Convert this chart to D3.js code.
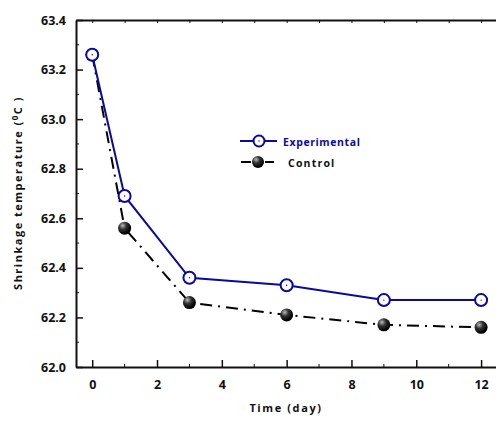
<!DOCTYPE html>
<html>
<head>
<meta charset="utf-8">
<script src="https://cdn.jsdelivr.net/npm/d3@7"></script>
<style>
  body { margin: 0; background: #fff; }
  text { font-family: "Open Sans", "Liberation Sans", sans-serif; font-weight: bold; }
</style>
</head>
<body>
<svg width="496" height="423"></svg>
<script>
const width = 496;
const height = 423;

const days = [0, 1, 3, 6, 9, 12];
const experimental = [63.26, 62.69, 62.36, 62.33, 62.27, 62.27];
const control = [63.26, 62.56, 62.26, 62.21, 62.17, 62.16];
const xTicks = [0, 2, 4, 6, 8, 10, 12];
const yTicks = [62.0, 62.2, 62.4, 62.6, 62.8, 63.0, 63.2, 63.4];

const blue = '#0a0a9e';
const margin = {left: 76, top: 20, bottom: 367};

const xScale = d3.scaleLinear()
    .domain([-0.5, 12.46])
    .range([margin.left, width]);

const yScale = d3.scaleLinear()
    .domain([62.0, 63.4])
    .range([margin.bottom, margin.top]);

const svg = d3.select('svg');

const defs = svg.append('defs');
const grad = defs.append('radialGradient')
    .attr('id', 'ball')
    .attr('cx', '35%').attr('cy', '30%').attr('r', '65%');
grad.append('stop').attr('offset', '0%').attr('stop-color', '#bbbbbb');
grad.append('stop').attr('offset', '45%').attr('stop-color', '#333333');
grad.append('stop').attr('offset', '100%').attr('stop-color', '#000000');

// minor ticks
const xMinor = d3.range(1, 13, 2);
const yMinor = d3.range(62.1, 63.4, 0.2);

const xAxis = d3.axisBottom(xScale)
    .tickValues(xTicks)
    .tickFormat(d3.format('d'))
    .tickSize(-7)
    .tickSizeOuter(0)
    .tickPadding(13);

const yAxis = d3.axisLeft(yScale)
    .tickValues(yTicks)
    .tickFormat(d3.format('.1f'))
    .tickSize(-7)
    .tickSizeOuter(0)
    .tickPadding(10);

const gx = svg.append('g')
    .attr('transform', 'translate(0,' + margin.bottom + ')')
    .call(xAxis);

const gy = svg.append('g')
    .attr('transform', 'translate(' + margin.left + ',0)')
    .call(yAxis);

[gx, gy].forEach(g => {
  g.select('.domain').attr('stroke', '#111').attr('stroke-width', 2);
  g.selectAll('.tick line').attr('stroke', '#111').attr('stroke-width', 1.5);
  g.selectAll('.tick text').style('font-size', '12.5px').attr('fill', '#111');
});

gx.selectAll('.minor')
    .data(xMinor)
    .enter()
    .append('line')
    .attr('x1', d => xScale(d)).attr('x2', d => xScale(d))
    .attr('y1', 0).attr('y2', -3)
    .attr('stroke', '#111');

gy.selectAll('.minor')
    .data(yMinor)
    .enter()
    .append('line')
    .attr('y1', d => yScale(d)).attr('y2', d => yScale(d))
    .attr('x1', 0).attr('x2', 3)
    .attr('stroke', '#111');

// top frame line
const topAxis = d3.axisTop(xScale)
    .tickValues(d3.range(0, 13, 1))
    .tickFormat('')
    .tickSize(-3)
    .tickSizeOuter(0);
const gt = svg.append('g')
    .attr('transform', 'translate(0,' + margin.top + ')')
    .call(topAxis);
gt.select('.domain').attr('stroke', '#111').attr('stroke-width', 2);
gt.selectAll('.tick line').attr('stroke', '#111');

const line = d3.line()
    .x((d, i) => xScale(days[i]))
    .y(d => yScale(d));

svg.append('path')
    .datum(control)
    .attr('d', line)
    .attr('fill', 'none')
    .attr('stroke', '#000')
    .attr('stroke-width', 2)
    .attr('stroke-dasharray', '12,6,2,6');

svg.append('path')
    .datum(experimental)
    .attr('d', line)
    .attr('fill', 'none')
    .attr('stroke', blue)
    .attr('stroke-width', 2);

svg.selectAll('.ctrl')
    .data(control)
    .enter()
    .append('circle')
    .attr('cx', (d, i) => xScale(days[i]))
    .attr('cy', d => yScale(d))
    .attr('r', 6.5)
    .attr('fill', 'url(#ball)');

svg.selectAll('.exp')
    .data(experimental)
    .enter()
    .append('circle')
    .attr('cx', (d, i) => xScale(days[i]))
    .attr('cy', d => yScale(d))
    .attr('r', 6)
    .attr('fill', '#fff')
    .attr('stroke', blue)
    .attr('stroke-width', 2);

svg.selectAll('.expdot')
    .data(experimental)
    .enter()
    .append('circle')
    .attr('cx', (d, i) => xScale(days[i]))
    .attr('cy', d => yScale(d))
    .attr('r', 0.7)
    .attr('fill', blue);

// legend
const legend = svg.append('g');
legend.append('line')
    .attr('x1', 240).attr('x2', 277).attr('y1', 141).attr('y2', 141)
    .attr('stroke', blue).attr('stroke-width', 2);
legend.append('circle')
    .attr('cx', 259).attr('cy', 141).attr('r', 5.5)
    .attr('fill', '#fff').attr('stroke', blue).attr('stroke-width', 2);
legend.append('circle')
    .attr('cx', 259).attr('cy', 141).attr('r', 0.7).attr('fill', blue);
legend.append('text')
    .attr('x', 283).attr('y', 145.5)
    .style('font-size', '10.5px')
    .style('letter-spacing', '0.6px')
    .attr('fill', blue)
    .text('Experimental');

legend.append('line')
    .attr('x1', 241).attr('x2', 251).attr('y1', 162).attr('y2', 162)
    .attr('stroke', '#000').attr('stroke-width', 2);
legend.append('line')
    .attr('x1', 265).attr('x2', 274).attr('y1', 162).attr('y2', 162)
    .attr('stroke', '#000').attr('stroke-width', 2);
legend.append('circle')
    .attr('cx', 258).attr('cy', 162).attr('r', 6)
    .attr('fill', 'url(#ball)');
legend.append('text')
    .attr('x', 288).attr('y', 166.5)
    .style('font-size', '10.5px')
    .style('letter-spacing', '1.2px')
    .attr('fill', '#111')
    .text('Control');

// axis titles
svg.append('text')
    .attr('x', 286)
    .attr('y', 412)
    .style('text-anchor', 'middle')
    .style('font-size', '11px')
    .style('letter-spacing', '1.6px')
    .attr('fill', '#111')
    .text('Time (day)');

const yTitle = svg.append('text')
    .attr('transform', 'rotate(-90)')
    .attr('x', -193)
    .attr('y', 22)
    .style('text-anchor', 'middle')
    .style('font-size', '11px')
    .style('letter-spacing', '1.5px')
    .attr('fill', '#111');
yTitle.append('tspan').text('Shrinkage temperature (');
yTitle.append('tspan').attr('dy', -4).style('font-size', '8px').text('0');
yTitle.append('tspan').attr('dy', 4).text('C )');
</script>
</body>
</html>
